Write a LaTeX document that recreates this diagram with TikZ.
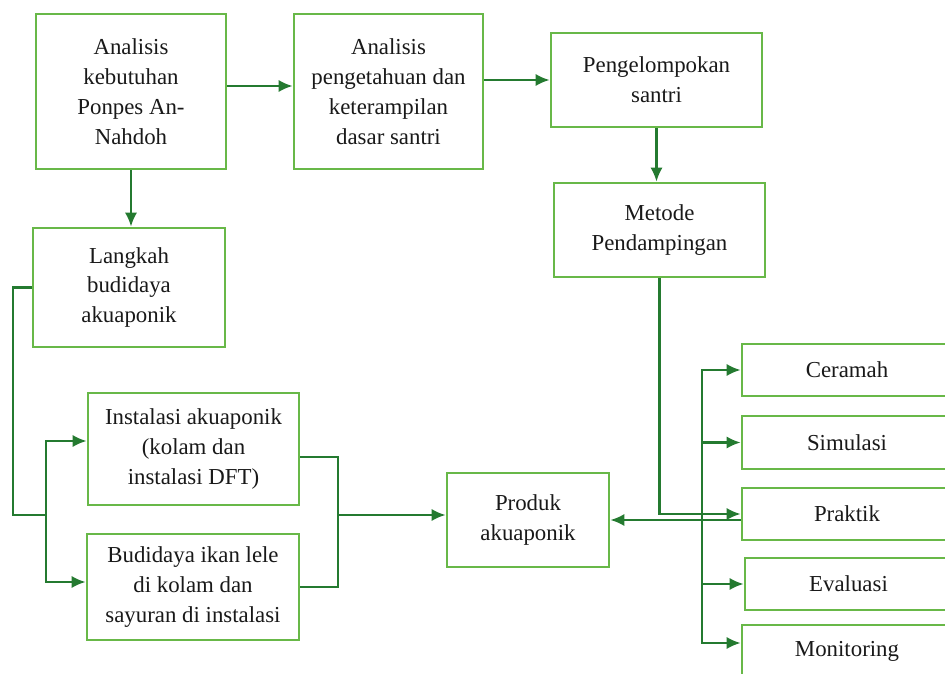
\documentclass[tikz,border=0pt]{standalone}
\usepackage{fontspec}
\setmainfont{Liberation Serif}
\usetikzlibrary{arrows.meta}
\definecolor{hijau}{RGB}{104,184,72}
\definecolor{panah}{RGB}{36,122,48}

\begin{document}
\begin{tikzpicture}[x=0.02cm, y=0.02cm, >={Latex[length=8pt,width=7pt]},
    kotak/.style={draw=hijau, line width=1.6pt, fill=white, align=center, text=black!90,
      font=\fontsize{13}{17}\selectfont, inner sep=0pt},
    garis/.style={color=panah, line width=1.2pt}]
    \clip (0,0) rectangle (945,673);
    % kotak atas
    \node[kotak, minimum width=3.8cm, minimum height=3.1cm] (kebutuhan) at (131, 581.5) {Analisis\\kebutuhan\\Ponpes An-\\Nahdoh};
    \node[kotak, minimum width=3.78cm, minimum height=3.1cm] (pengetahuan) at (388.5, 581.5) {Analisis\\pengetahuan dan\\keterampilan\\dasar santri};
    \node[kotak, minimum width=4.22cm, minimum height=1.88cm] (kelompok) at (656.5, 593) {Pengelompokan\\santri};
    \node[kotak, minimum width=4.22cm, minimum height=1.88cm] (metode) at (659.5, 443) {Metode\\Pendampingan};
    % kotak kiri
    \node[kotak, minimum width=3.84cm, minimum height=2.38cm] (langkah) at (129, 385.5) {Langkah\\budidaya\\akuaponik};
    \node[kotak, minimum width=4.22cm, minimum height=2.24cm] (instalasi) at (193.5, 224) {Instalasi akuaponik\\(kolam dan\\instalasi DFT)};
    \node[kotak, minimum width=4.24cm, minimum height=2.12cm] (budidaya) at (193, 86) {Budidaya ikan lele\\di kolam dan\\sayuran di instalasi};
    \node[kotak, minimum width=3.24cm, minimum height=1.88cm] (produk) at (528, 153) {Produk\\akuaponik};
    % metode
    \node[kotak, minimum width=4.2cm, minimum height=1.04cm] (ceramah) at (847, 303) {Ceramah};
    \node[kotak, minimum width=4.2cm, minimum height=1.06cm] (simulasi) at (847, 230.5) {Simulasi};
    \node[kotak, minimum width=4.2cm, minimum height=1.04cm] (praktik) at (847, 159) {Praktik};
    \node[kotak, minimum width=4.14cm, minimum height=1.04cm] (evaluasi) at (848.5, 89) {Evaluasi};
    \node[kotak, minimum width=4.2cm, minimum height=1.04cm] (monitoring) at (847, 22) {Monitoring};

    \draw[garis,->] ([yshift=0.11cm]kebutuhan.east) -- ([yshift=0.11cm]pengetahuan.west);
    \draw[garis,->] (pengetahuan.east |- kelompok.west) -- (kelompok.west);
    \draw[garis,->] (kebutuhan.south) -- (kebutuhan.south |- langkah.north);
    \draw[garis,->] (kelompok.south) -- (kelompok.south |- metode.north);

    \coordinate (kiri) at (13, 158);
    \coordinate (cabang) at (46, 158);
    \draw[garis] (langkah.west) -| (kiri) -- (cabang);
    \draw[garis,->] (cabang) |- ([yshift=0.16cm]instalasi.west);
    \draw[garis,->] (cabang) |- ([yshift=0.1cm]budidaya.west);

    \coordinate (gabung) at (338, 158);
    \draw[garis] ([yshift=-0.16cm]instalasi.east) -| (gabung);
    \draw[garis] (budidaya.east) -| (gabung);
    \draw[garis,->] (gabung) -- (produk.west |- gabung);

    \draw[garis,->] (metode.south) |- (praktik.west);
    \draw[garis,->] (praktik.west |- produk.east) -- (produk.east);
    \coordinate (bus) at (702, 153);
    \foreach \m in {ceramah, simulasi, evaluasi}
        \draw[garis,->] (bus) |- (\m.west);
    \draw[garis,->] (bus) |- ([yshift=0.16cm]monitoring.west);
\end{tikzpicture}
\end{document}
